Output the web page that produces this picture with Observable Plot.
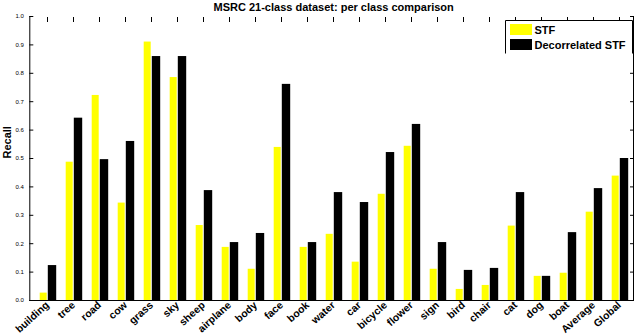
<!DOCTYPE html>
<html>
<head>
<meta charset="utf-8">
<script src="https://cdn.jsdelivr.net/npm/d3@7"></script>
<script src="https://cdn.jsdelivr.net/npm/@observablehq/plot@0.6"></script>
<style>
  html, body { margin: 0; padding: 0; background: #fff; }
</style>
</head>
<body>
<div id="chart"></div>
<script>
const titleText = "MSRC 21-class dataset: per class comparison";
const yLabel = "Recall";
const categories = ["building","tree","road","cow","grass","sky","sheep","airplane","body","face","book","water","car","bicycle","flower","sign","bird","chair","cat","dog","boat","Average","Global"];
const stf =          [0.026,0.487,0.722,0.343,0.910,0.785,0.264,0.187,0.110,0.539,0.187,0.233,0.135,0.374,0.543,0.110,0.039,0.053,0.262,0.085,0.096,0.311,0.438];
const decorrelated = [0.123,0.642,0.496,0.560,0.859,0.859,0.387,0.204,0.236,0.761,0.204,0.380,0.345,0.521,0.620,0.204,0.106,0.113,0.380,0.085,0.239,0.394,0.500];
const seriesNames = ["STF","Decorrelated STF"];
const seriesColors = ["#ffff00","#000000"];
const yTicks = [0,0.1,0.2,0.3,0.4,0.5,0.6,0.7,0.8,0.9,1];

const data = categories.map((c, i) => ({category: c, stf: stf[i], dec: decorrelated[i]}));

const plot = Plot.plot({
  width: 638,
  height: 336,
  marginTop: 16,
  marginBottom: 36,
  marginLeft: 29.3,
  marginRight: 5,
  style: {fontFamily: "'Liberation Sans', Arial, sans-serif", background: "#fff", color: "#000"},
  x: {domain: categories, padding: 0, insetLeft: -1, insetRight: -4.2, label: null},
  y: {domain: [0, 1], label: null},
  marks: [
    Plot.barY(data, {x: "category", y: "stf", fill: seriesColors[0], insetLeft: 5.7, insetRight: 13.3}),
    Plot.barY(data, {x: "category", y: "dec", fill: seriesColors[1], insetLeft: 13.8, insetRight: 3.8}),
    Plot.frame({anchor: "left", stroke: "#000"}),
    Plot.frame({anchor: "bottom", stroke: "#000"}),
    Plot.frame({anchor: "right", stroke: "#000"}),
    Plot.axisY({anchor: "left", ticks: yTicks, tickSize: -4, tickPadding: 10, fontSize: 6, label: null}),
    Plot.axisY({anchor: "right", ticks: yTicks, tickSize: -4, tickFormat: () => "", label: null}),
    Plot.axisX({anchor: "top", tickSize: -5, tickFormat: () => "", label: null}),
    Plot.axisX({anchor: "bottom", tickSize: 0, tickPadding: 3, tickRotate: -42, fontSize: 10.5, fontWeight: "bold", label: null}),
    Plot.text([yLabel], {frameAnchor: "left", dx: -22.5, rotate: -90, fontSize: 11, fontWeight: "bold", text: d => d}),
    Plot.text([titleText], {frameAnchor: "top", dx: 2, dy: -6, lineAnchor: "bottom", fontSize: 11, fontWeight: "bold", text: d => d})
  ]
});

document.getElementById("chart").appendChild(plot);

// Legend inside the plot area (top right)
const svg = d3.select(plot.tagName.toLowerCase() === "svg" ? plot : plot.querySelector("svg"));
const lg = svg.append("g").attr("font-family", "'Liberation Sans', Arial, sans-serif").attr("text-anchor", "start");
lg.append("rect").attr("x", 505.5).attr("y", 20.5).attr("width", 127).attr("height", 33).attr("fill", "#fff").attr("stroke", "none");
lg.append("path").attr("d", "M505.5,53.5V20.5H632.5V53.5").attr("fill", "none").attr("stroke", "#000");
seriesNames.forEach((name, i) => {
  lg.append("rect").attr("x", 510).attr("y", 24 + i * 15).attr("width", 22).attr("height", 11).attr("fill", seriesColors[i]);
  lg.append("text").attr("x", 534.5).attr("y", 33.5 + i * 15).attr("text-anchor", "start").attr("font-size", 11).attr("font-weight", "bold").attr("fill", "#000").text(name);
});
</script>
</body>
</html>
